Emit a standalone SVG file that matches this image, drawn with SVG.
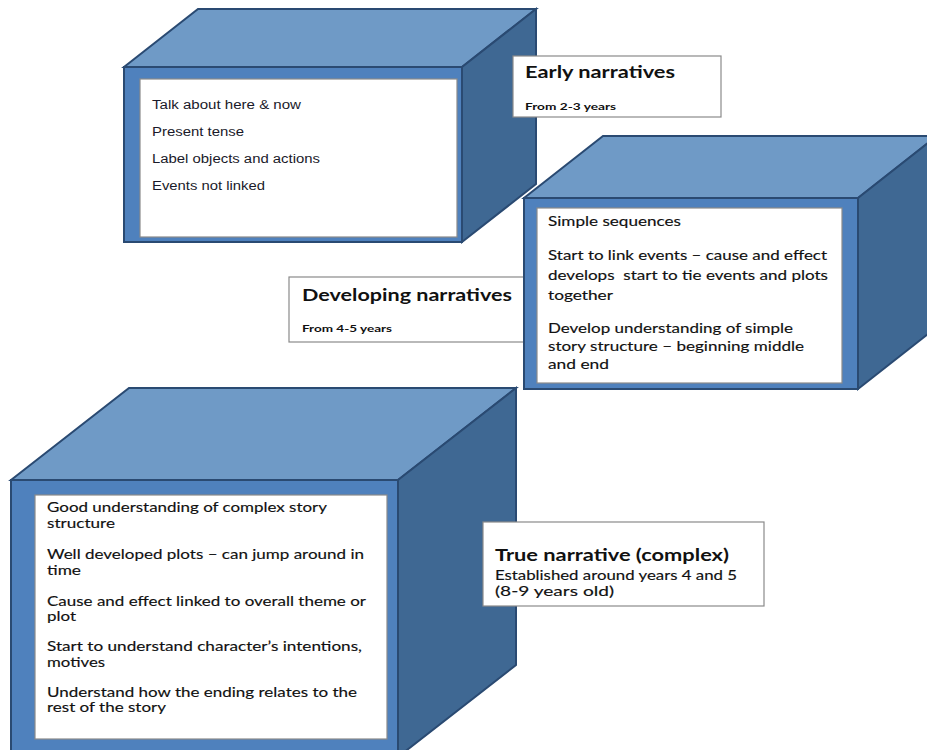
<svg xmlns="http://www.w3.org/2000/svg" width="927" height="750" viewBox="0 0 927 750">
<defs>
<style>
.front{fill:#4F81BD;stroke:#2A4A72;stroke-width:2;stroke-linejoin:miter}
.top{fill:#6F9AC6;stroke:#2A4A72;stroke-width:2;stroke-linejoin:miter}
.side{fill:#3F6893;stroke:#2A4A72;stroke-width:2;stroke-linejoin:miter}
.panel{fill:#FFFFFF;stroke:#8A8A8A;stroke-width:1.2}
.label{fill:#FFFFFF;stroke:#8A8A8A;stroke-width:1.2}
.arial{font-family:"Liberation Sans",Arial,sans-serif;font-size:12px;fill:#1a1a2a}
.cal{font-family:Lato,"Open Sans",sans-serif;font-size:13px;fill:#111;stroke:#111;stroke-width:0.15}
.title{font-family:Lato,"Open Sans",sans-serif;font-size:17px;font-weight:bold;fill:#111}
.sub{font-family:Lato,"Open Sans",sans-serif;font-size:10px;font-weight:bold;fill:#111}
</style>
</defs>
<rect width="927" height="750" fill="#FFFFFF"/>

<g id="cube-early">
<polygon class="top" points="124,67 198,9 536,9 462,67"/>
<polygon class="side" points="462,67 536,9 536,184 462,242"/>
<rect class="front" x="124" y="67" width="338" height="175"/>
<rect class="panel" x="140" y="79" width="317" height="158"/>
<text class="arial" x="152" y="109" textLength="149" lengthAdjust="spacingAndGlyphs">Talk about here &amp; now</text>
<text class="arial" x="152" y="136" textLength="92" lengthAdjust="spacingAndGlyphs">Present tense</text>
<text class="arial" x="152" y="163" textLength="168" lengthAdjust="spacingAndGlyphs">Label objects and actions</text>
<text class="arial" x="152" y="190" textLength="113" lengthAdjust="spacingAndGlyphs">Events not linked</text>
</g>

<g id="label-early">
<rect class="label" x="513" y="56" width="208" height="61"/>
<text class="title" x="525" y="78" textLength="150" lengthAdjust="spacingAndGlyphs">Early narratives</text>
<text class="sub" x="525" y="110" textLength="91" lengthAdjust="spacingAndGlyphs">From 2-3 years</text>
</g>

<g id="label-developing">
<rect class="label" x="289" y="277" width="245" height="65"/>
<text class="title" x="302" y="301" textLength="210" lengthAdjust="spacingAndGlyphs">Developing narratives</text>
<text class="sub" x="302" y="332" textLength="90" lengthAdjust="spacingAndGlyphs">From 4-5 years</text>
</g>

<g id="cube-developing">
<polygon class="top" points="524,198 603,136 937,136 858,198"/>
<polygon class="side" points="858,198 937,136 937,327 858,389"/>
<rect class="front" x="524" y="198" width="334" height="191"/>
<rect class="panel" x="537" y="208" width="305" height="175"/>
<text class="cal" x="548" y="226" textLength="133" lengthAdjust="spacingAndGlyphs">Simple sequences</text>
<text class="cal" x="548" y="260" textLength="279" lengthAdjust="spacingAndGlyphs">Start to link events – cause and effect</text>
<text class="cal" x="548" y="280" textLength="280" lengthAdjust="spacingAndGlyphs" xml:space="preserve">develops  start to tie events and plots</text>
<text class="cal" x="548" y="300" textLength="65" lengthAdjust="spacingAndGlyphs">together</text>
<text class="cal" x="548" y="333" textLength="245" lengthAdjust="spacingAndGlyphs">Develop understanding of simple</text>
<text class="cal" x="548" y="351" textLength="256" lengthAdjust="spacingAndGlyphs">story structure – beginning middle</text>
<text class="cal" x="548" y="369" textLength="61" lengthAdjust="spacingAndGlyphs">and end</text>
</g>

<g id="cube-true">
<polygon class="top" points="11,480 129,388 516,388 398,480"/>
<polygon class="side" points="398,480 516,388 516,665 398,757"/>
<rect class="front" x="11" y="480" width="387" height="320"/>
<rect class="panel" x="35" y="495" width="352" height="244"/>
<text class="cal" x="47" y="512" textLength="280" lengthAdjust="spacingAndGlyphs">Good understanding of complex story</text>
<text class="cal" x="47" y="528" textLength="68" lengthAdjust="spacingAndGlyphs">structure</text>
<text class="cal" x="47" y="559" textLength="317" lengthAdjust="spacingAndGlyphs">Well developed plots – can jump around in</text>
<text class="cal" x="47" y="575" textLength="34" lengthAdjust="spacingAndGlyphs">time</text>
<text class="cal" x="47" y="606" textLength="319" lengthAdjust="spacingAndGlyphs">Cause and effect linked to overall theme or</text>
<text class="cal" x="47" y="621" textLength="29" lengthAdjust="spacingAndGlyphs">plot</text>
<text class="cal" x="47" y="651" textLength="315" lengthAdjust="spacingAndGlyphs">Start to understand character’s intentions,</text>
<text class="cal" x="47" y="667" textLength="58" lengthAdjust="spacingAndGlyphs">motives</text>
<text class="cal" x="47" y="697" textLength="310" lengthAdjust="spacingAndGlyphs">Understand how the ending relates to the</text>
<text class="cal" x="47" y="712" textLength="119" lengthAdjust="spacingAndGlyphs">rest of the story</text>
</g>

<g id="label-true">
<rect class="label" x="483" y="522" width="281" height="84"/>
<text class="title" x="495" y="561" textLength="234" lengthAdjust="spacingAndGlyphs">True narrative (complex)</text>
<text class="cal" x="495" y="580" textLength="242" lengthAdjust="spacingAndGlyphs">Established around years 4 and 5</text>
<text class="cal" x="495" y="596" textLength="119" lengthAdjust="spacingAndGlyphs">(8-9 years old)</text>
</g>

<g id="connectors"></g>
</svg>
